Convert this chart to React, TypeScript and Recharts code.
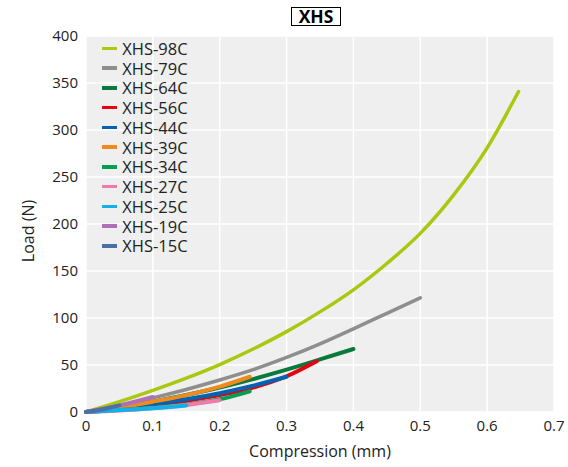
import { LineChart, Line, XAxis, YAxis, CartesianGrid, Label } from "recharts"

const xTicks = [0, 0.1, 0.2, 0.3, 0.4, 0.5, 0.6, 0.7]
const yTicks = [0, 50, 100, 150, 200, 250, 300, 350, 400]

const comp98 = [0, 0.05, 0.1, 0.15, 0.2, 0.25, 0.3, 0.35, 0.4, 0.45, 0.5, 0.55, 0.6, 0.647]
const load98 = [0, 11, 23, 36, 50.5, 67, 85.5, 106.5, 130, 158, 190, 231, 281, 341]
const comp79 = [0, 0.05, 0.1, 0.15, 0.2, 0.25, 0.3, 0.35, 0.4, 0.45, 0.5]
const load79 = [0, 7, 15, 24, 34, 45, 58, 72.5, 88.5, 105, 121.5]
const comp64 = [0, 0.05, 0.1, 0.15, 0.2, 0.25, 0.3, 0.35, 0.4]
const load64 = [0, 5, 11, 18, 26, 35, 45, 56, 67]
const comp56 = [0, 0.05, 0.1, 0.15, 0.2, 0.25, 0.3, 0.345]
const load56 = [0, 3, 7, 12, 18, 26, 38, 54]
const comp44 = [0, 0.05, 0.1, 0.15, 0.2, 0.25, 0.3]
const load44 = [0, 4, 8.5, 13.5, 20, 28, 37.5]
const comp39 = [0, 0.05, 0.1, 0.15, 0.2, 0.245]
const load39 = [0, 5, 11, 18, 27, 37.5]
const comp34 = [0, 0.05, 0.1, 0.15, 0.2, 0.245]
const load34 = [0, 2, 4.5, 8, 13.5, 22]
const comp27 = [0, 0.05, 0.1, 0.15, 0.2]
const load27 = [0, 1.5, 4, 7.5, 12.5]
const comp25 = [0, 0.05, 0.1, 0.15]
const load25 = [0, 2, 4, 7]
const comp19 = [0, 0.05, 0.1]
const load19 = [0, 7, 16]
const comp15 = [0, 0.025, 0.05]
const load15 = [0, 3, 7]

const pairs = (xs: number[], ys: number[]) => xs.map((x, i) => ({ x, y: ys[i] }))

const series = [
  { name: "XHS-98C", color: "#a9c80f", width: 3.5, data: pairs(comp98, load98) },
  { name: "XHS-79C", color: "#8e8e8e", width: 3.5, data: pairs(comp79, load79) },
  { name: "XHS-64C", color: "#0a7a3c", width: 4, data: pairs(comp64, load64) },
  { name: "XHS-56C", color: "#e60012", width: 4, data: pairs(comp56, load56) },
  { name: "XHS-44C", color: "#0062b0", width: 4, data: pairs(comp44, load44) },
  { name: "XHS-39C", color: "#f08a1e", width: 4, data: pairs(comp39, load39) },
  { name: "XHS-34C", color: "#00a050", width: 4, data: pairs(comp34, load34) },
  { name: "XHS-27C", color: "#f07aaa", width: 4, data: pairs(comp27, load27) },
  { name: "XHS-25C", color: "#10b0e8", width: 4, data: pairs(comp25, load25) },
  { name: "XHS-19C", color: "#b070b8", width: 4, data: pairs(comp19, load19) },
  { name: "XHS-15C", color: "#4a6fa5", width: 4, data: pairs(comp15, load15) },
]

const font = "'Open Sans', 'Noto Sans', sans-serif"

export default function App() {
  return (
    <div style={{ position: "relative", width: 568, height: 467, fontFamily: font, overflow: "hidden" }}>
      <style>{"body{margin:0}"}</style>
      <LineChart width={568} height={467} margin={{ top: 36, right: 14, left: 0, bottom: 0 }}>
        <CartesianGrid fill="#efefef" stroke="#ffffff" strokeWidth={1.5} />
        <XAxis
          type="number"
          dataKey="x"
          domain={[0, 0.7]}
          ticks={xTicks}
          tickFormatter={(v: number) => (v === 0 ? "0" : v.toFixed(1))}
          axisLine={false}
          tickLine={false}
          height={55}
          interval={0}
          tick={{ fontSize: 15, fill: "#222" }}
        >
          <Label
            content={() => (
              <text x={320} y={451} textAnchor="middle" dominantBaseline="central" fontSize={16} fill="#222">
                Compression (mm)
              </text>
            )}
          />
        </XAxis>
        <YAxis
          type="number"
          domain={[0, 400]}
          ticks={yTicks}
          axisLine={false}
          tickLine={false}
          width={86}
          tick={{ fontSize: 15, fill: "#222" }}
        >
          <Label
            content={() => (
              <text
                x={27.5}
                y={231}
                transform="rotate(-90 27.5 231)"
                textAnchor="middle"
                dominantBaseline="central"
                fontSize={16}
                fill="#222"
              >
                Load (N)
              </text>
            )}
          />
        </YAxis>
        {series.map((s) => (
          <Line
            key={s.name}
            data={s.data}
            dataKey="y"
            name={s.name}
            type="monotone"
            stroke={s.color}
            strokeWidth={s.width}
            strokeLinecap="round"
            dot={false}
            activeDot={false}
            isAnimationActive={false}
          />
        ))}
      </LineChart>

      {/* legend */}
      <div style={{ position: "absolute", left: 101.7, top: 38.4, fontSize: 16.5, color: "#222" }}>
        {series.map((s) => (
          <div key={s.name} style={{ display: "flex", alignItems: "center", height: 19.77, lineHeight: "19px" }}>
            <div style={{ width: 15.6, height: 3.5, background: s.color, marginRight: 5 }} />
            <span>{s.name}</span>
          </div>
        ))}
      </div>

      <div
        style={{
          position: "absolute",
          left: 291,
          top: 7,
          width: 48,
          height: 17,
          border: "1px solid #000",
          fontWeight: 700,
          fontSize: 17.5,
          lineHeight: "17px",
          textAlign: "center",
          color: "#000",
        }}
      >
        XHS
      </div>
    </div>
  )
}
